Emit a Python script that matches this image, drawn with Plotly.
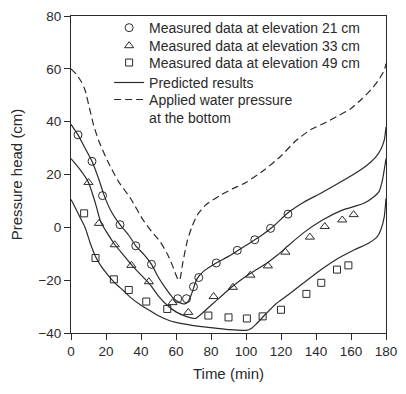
import plotly.graph_objects as go

# Measured data
t21 = [4, 12, 18, 28, 37, 46, 61, 66, 70, 73, 83, 95, 105, 114, 124]
h21 = [35, 25, 12, 1, -7, -14, -27, -27, -22.5, -19, -13.5, -8.7, -4.7, -0.4, 5]
t33 = [10, 16, 25, 34.5, 44.5, 58, 67, 81.5, 92.5, 102.5, 112.5, 122.5, 136.5, 145, 155, 161.5]
h33 = [17, 1.5, -6.6, -14.4, -20.6, -28.5, -32.2, -26.2, -22.7, -18.1, -14.6, -9.4, -3.7, 0.3, 2.8, 4.8]
t49 = [7.5, 14, 24.5, 33, 43, 55, 78.5, 90, 100.5, 109.5, 120, 134.5, 143, 152, 158.5]
h49 = [5.3, -11.6, -19.7, -23.7, -28.1, -30.9, -33.4, -34.1, -34.5, -33.7, -31.2, -25.2, -21, -16, -14.4]

# Predicted results
p21_t = [0, 4, 8, 12, 16, 19, 23, 28, 33, 37, 42, 46, 50, 54, 58, 62, 65, 67, 69, 72, 76, 83, 90, 96, 102, 109, 115, 124, 133, 143, 155, 166, 170, 174, 177, 179, 180]
p21_h = [39, 35, 30, 25, 18, 12, 6, 1, -3, -7, -10.5, -14, -19, -23, -26.5, -28.5, -29, -28, -25, -19.5, -16.5, -13.5, -11, -8.5, -6, -3, 0, 5.5, 9.5, 13, 17.5, 22, 24, 26.5, 29.5, 33, 38]
p33_t = [0, 5, 10, 14, 17, 21, 25, 30, 35, 40, 45, 50, 55, 60, 65, 71, 75, 80, 86, 92, 100, 106, 112, 118, 124, 133, 143, 155, 167, 172, 176, 178, 180]
p33_h = [26, 22, 17, 9, 2, -2.5, -6.5, -10.5, -14.5, -18, -21.5, -26, -29.5, -32, -33.5, -34.5, -32.5, -29.5, -26, -22.5, -18.5, -16, -13.5, -10.5, -7, -2, 2.5, 6.5, 9, 11, 13.5, 18, 26]
p49_t = [0, 2, 5, 8, 11, 14, 17, 21, 25, 30, 34, 40, 45, 50, 55, 60, 70, 80, 90, 100, 103, 106, 111, 117, 124, 133, 143, 152, 162, 170, 175, 177, 179, 180]
p49_h = [10.5, 8, 4, 0, -6, -11, -14.5, -18, -21, -24, -26.5, -29.5, -31.5, -33.5, -35, -36, -37.2, -38, -38.7, -39, -38.3, -36.5, -33, -29, -25.6, -21, -16, -12, -8.5, -6, -3.5, -1, 4, 11]

# Applied water pressure at the bottom
pw_t = [0, 3, 6, 8, 10.6, 13, 16, 21, 27, 34, 41, 46, 51, 55, 58, 61, 62, 64, 66.5, 69, 72, 77, 85, 92, 100, 110, 120, 128, 137, 145, 152, 160, 166, 172, 176, 179, 180]
pw_h = [60, 58, 55, 52, 45, 38.5, 32.5, 25, 17.5, 11, 3, -1.5, -5.5, -10, -14.5, -19.5, -20, -13, -5, 0, 4.5, 8.5, 12, 14.5, 17, 21.5, 27, 32.5, 37, 39.5, 42, 45, 48.5, 52.5, 56, 59.5, 62]

x_ticks = [0, 20, 40, 60, 80, 100, 120, 140, 160, 180]
y_ticks = [-40, -20, 0, 20, 40, 60, 80]

ink = "#2a2a2a"
fnt = "Liberation Sans, Arial, sans-serif"
fig = go.Figure()

fig.add_trace(go.Scatter(x=t21, y=h21, mode="markers", name="Measured data at elevation 21 cm", legend="legend",
                         marker=dict(symbol="circle-open", size=8, color=ink, line=dict(width=1))))
fig.add_trace(go.Scatter(x=t33, y=h33, mode="markers", name="Measured data at elevation 33 cm", legend="legend2",
                         marker=dict(symbol="triangle-up-open", size=8, color=ink, line=dict(width=1))))
fig.add_trace(go.Scatter(x=t49, y=h49, mode="markers", name="Measured data at elevation 49 cm", legend="legend3",
                         marker=dict(symbol="square-open", size=7, color=ink, line=dict(width=1))))

ln = dict(color=ink, width=1.2, shape="spline", smoothing=0.6)
fig.add_trace(go.Scatter(x=p21_t, y=p21_h, mode="lines", name="Predicted results", line=ln, legend="legend4"))
fig.add_trace(go.Scatter(x=p33_t, y=p33_h, mode="lines", showlegend=False, line=ln, legend="legend4"))
fig.add_trace(go.Scatter(x=p49_t, y=p49_h, mode="lines", showlegend=False, line=ln, legend="legend4"))
fig.add_trace(go.Scatter(x=pw_t, y=pw_h, mode="lines", name="Applied water pressure<br>at the bottom", legend="legend5",
                         line=dict(color=ink, width=1.2, dash="7px,4px", shape="spline", smoothing=0.6)))

axis_common = dict(showgrid=False, zeroline=False, showline=True, linecolor=ink, linewidth=1,
                   mirror=True, ticks="outside", ticklen=6, tickcolor=ink, ticklabeloverflow="allow",
                   automargin=False, tickfont=dict(family=fnt, size=13.5, color=ink))
fig.update_xaxes(range=[0, 180], tickvals=x_ticks,
                 title=dict(text="Time (min)", font=dict(family=fnt, size=15, color=ink), standoff=10), **axis_common)
fig.update_yaxes(range=[-40, 80], tickvals=y_ticks,
                 title=dict(text="Pressure head (cm)", font=dict(family=fnt, size=15, color=ink), standoff=22), **axis_common)

def leg(y, yanchor="middle"):
    return dict(x=0.121, y=y, xanchor="left", yanchor=yanchor, bgcolor="rgba(0,0,0,0)",
                font=dict(family=fnt, size=14, color=ink), valign="top", itemwidth=30)

fig.update_layout(
    width=398, height=378,
    margin=dict(l=63, r=20, t=8, b=53, autoexpand=False),
    paper_bgcolor="white", plot_bgcolor="white",
    font=dict(family=fnt, color=ink),
    showlegend=True,
    legend=leg(0.962), legend2=leg(0.905), legend3=leg(0.852), legend4=leg(0.789),
    legend5=leg(0.707),
)

fig.write_html("out.html")
